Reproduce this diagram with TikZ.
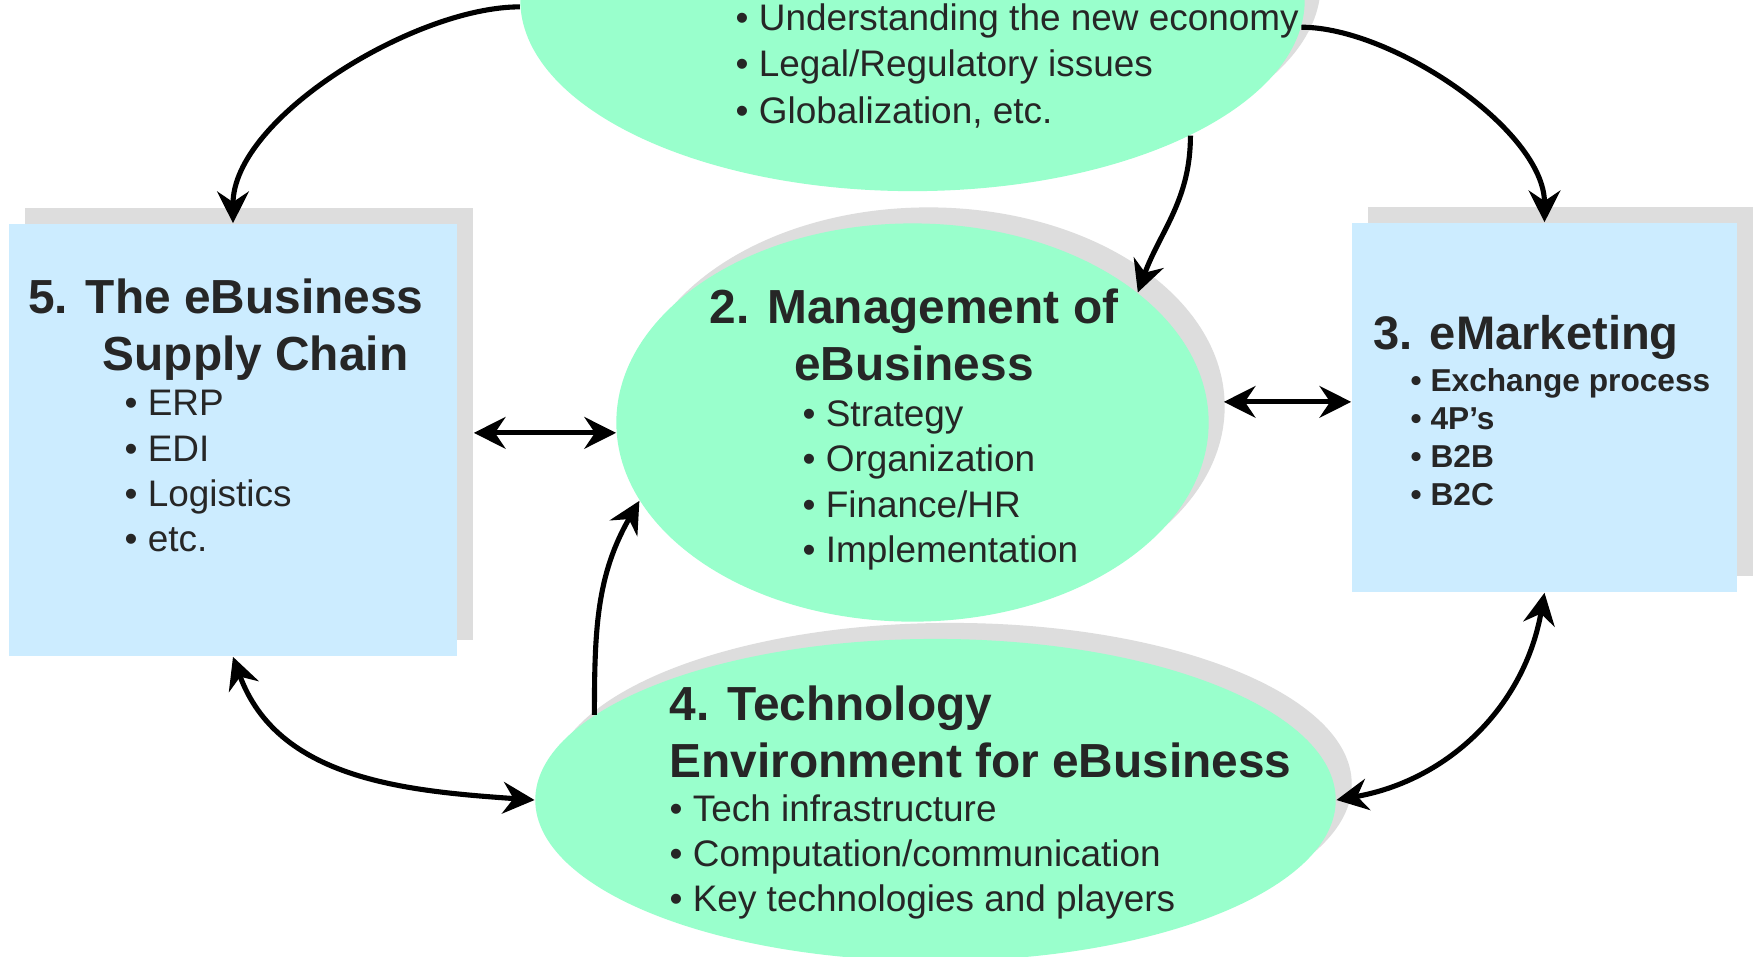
\documentclass[tikz,border=0pt]{standalone}
\usepackage{fontspec}
\setmainfont{Liberation Sans}
\usepackage{tikz}
\usetikzlibrary{shapes.geometric, arrows.meta, shadows}

\definecolor{mint}{HTML}{99FFCC}
\definecolor{skyblue}{HTML}{CCECFF}
\definecolor{shadowgray}{HTML}{DDDDDD}
\definecolor{inkgray}{HTML}{262626}

\tikzstyle{link} = [line width=1.45pt, ->, >={Stealth[length=9pt, width=9pt, inset=3pt]}]
\tikzstyle{flat} = [general shadow={shadow xshift=0.16cm, shadow yshift=0.16cm, fill=shadowgray}]
\tikzstyle{blob} = [ellipse, fill=mint, inner sep=0pt, flat]
\tikzstyle{panel} = [rectangle, fill=skyblue, inner sep=0pt, flat]
\tikzstyle{head} = [inner sep=0pt, text=inkgray, font=\bfseries\fontsize{13.6}{16.2}\selectfont]
\tikzstyle{items} = [inner sep=0pt, text=inkgray, align=left, anchor=base west, font=\fontsize{10.5}{12.8}\selectfont]

\begin{document}
\begin{tikzpicture}[x=0.01cm, y=0.01cm]
	% Frame: 1760 x 956 units, origin in the top left corner
	\useasboundingbox (0,0) rectangle (1760,-956);
	\fill [white] (0,0) rectangle (1760,-956);
	\clip (0,0) rectangle (1760,-956);
	
	% The topics:
	% ellipses and boxes are empty nodes, their texts are set on top
	\node [blob, minimum width=7.84cm, minimum height=3.82cm] (eco) at (912.5,0) {};
	\node [blob, minimum width=5.92cm, minimum height=3.98cm] (mgmt) at (912.5,-422.5) {};
	\node [blob, minimum width=8cm, minimum height=3.22cm] (tech) at (935.5,-800) {};
	\node [panel, minimum width=4.48cm, minimum height=4.32cm] (supply) at (233,-440) {};
	\node [panel, minimum width=3.85cm, minimum height=3.69cm] (market) at (1544.5,-407.5) {};
	
	% Texts:
	% multi-line nodes sit on the baseline of their last line
	\node [items, font=\fontsize{10.5}{13.1}\selectfont] (ecoList) at (735,-123)
		{• Understanding the new economy\\• Legal/Regulatory issues\\• Globalization, etc.};
	
	\node [head, align=center, anchor=base] (mgmtHead) at (914,-380) {2. Management of\\eBusiness};
	\node [items] (mgmtList) at (802,-562) {• Strategy\\• Organization\\• Finance/HR\\• Implementation};
	
	\node [head, align=left, anchor=base west] (supplyHead) at (27.7,-370)
		{5. The eBusiness\\\hspace*{0.743cm}Supply Chain};
	\node [items] (supplyList) at (124,-551) {• ERP\\• EDI\\• Logistics\\• etc.};
	
	\node [head, anchor=base west, font=\bfseries\fontsize{13.4}{15}\selectfont] (marketHead) at (1372.5,-349) {3. eMarketing};
	\node [items, font=\bfseries\fontsize{9}{10.8}\selectfont] (marketList) at (1410,-505)
		{• Exchange process\\• 4P’s\\• B2B\\• B2C};
	
	\node [head, align=left, anchor=base west] (techHead) at (669,-777) {4. Technology\\Environment for eBusiness};
	\node [items] (techList) at (669,-911.7)
		{• Tech infrastructure\\• Computation/communication\\• Key technologies and players};
	
	% Links out of the top ellipse
	\draw [link] (eco.181) to [out=180, in=90, looseness=0.75] (supply.north);
	\draw [link] (eco.-4) to [out=0, in=90, looseness=0.75] (market.north);
	\draw [link] (eco.-26) to [out=-90, in=70] (mgmt.30);
	
	% Two-way links (the horizontal ones start at the shadow edge)
	\draw [link, <->] ([xshift=0.16cm]mgmt.182 -| supply.east) -- (mgmt.182);
	\draw [link, <->] ([xshift=0.16cm]mgmt.4) -- (mgmt.4 -| market.west);
	\draw [link, <->] (supply.south) to [out=-70, in=176] (tech.west);
	\draw [link, <->] (market.south) to [out=-100, in=10] (tech.east);
	
	% Technology feeds management
	\draw [link] (tech.166) to [out=90, in=240] (mgmt.196);
\end{tikzpicture}
\end{document}
